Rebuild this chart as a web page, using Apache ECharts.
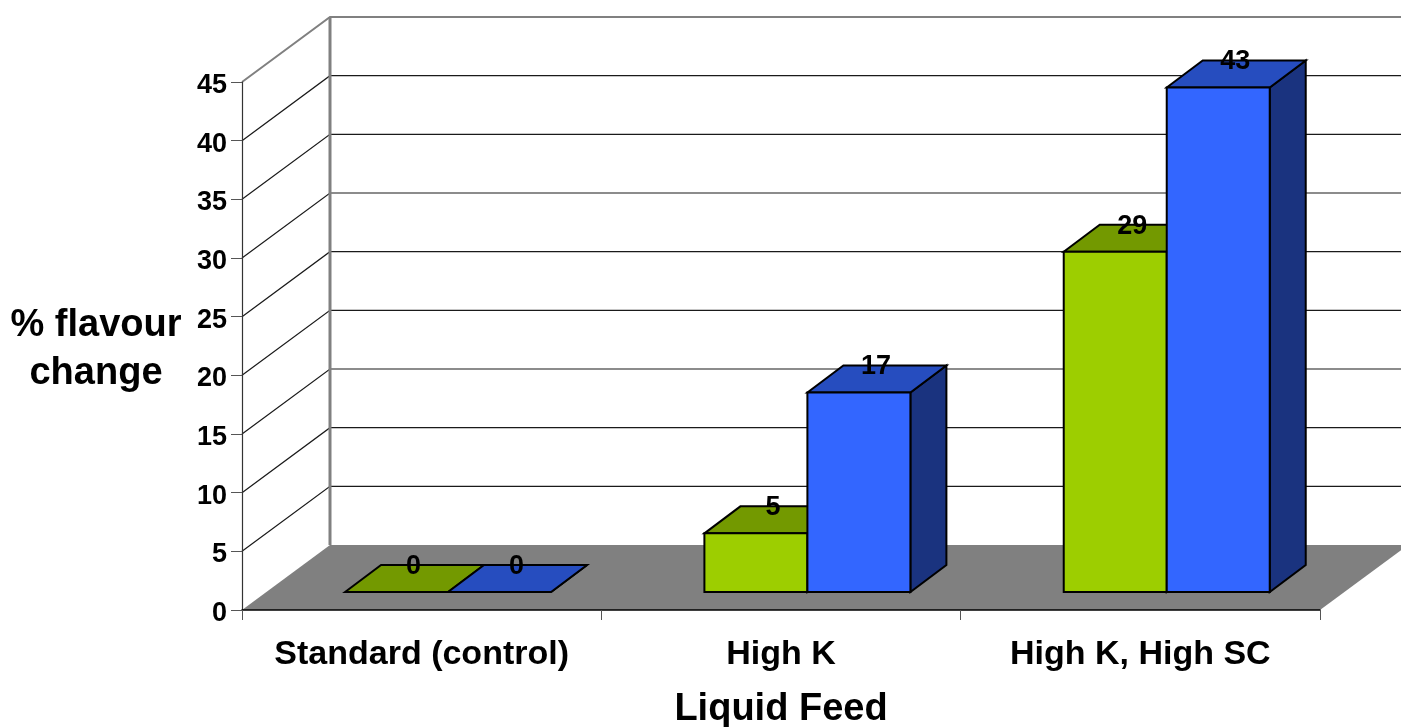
<!DOCTYPE html>
<html><head><meta charset="utf-8">
<style>html,body{margin:0;padding:0;background:#fff}#c{width:1401px;height:727px}</style>
<script src="https://cdn.jsdelivr.net/npm/echarts@6/dist/echarts.min.js"></script>
</head><body><div id="c"></div>
<script>
const categories = ["Standard (control)", "High K", "High K, High SC"];
const greenValues = [0, 5, 29];
const blueValues = [0, 17, 43];
const yTicks = [0, 5, 10, 15, 20, 25, 30, 35, 40, 45];

const FONT = '"Liberation Sans", Arial, sans-serif';
const WALL_DX = 88, WALL_DY = 65, BAR_DX = 36, BAR_DY = 27;
const BAR_SHIFT_X = 26.4, BAR_SHIFT_Y = 18, BAR_FRACTION = 103 / 359.33;
const LAST = categories.length - 1;

function plotBounds(api) {
  const band = api.size([1, 0])[0];
  return { left: api.coord([0, 0])[0] - band / 2, right: api.coord([LAST, 0])[0] + band / 2, band };
}
function poly(points, fill, stroke, lw) {
  return { type: 'polygon', shape: { points }, style: { fill, stroke, lineWidth: lw, lineJoin: 'miter' } };
}
function line(points, stroke, lw) {
  return { type: 'polyline', shape: { points }, style: { fill: null, stroke, lineWidth: lw } };
}
function renderFloor(params, api) {
  const b = plotBounds(api), y = api.coord([0, 0])[1];
  return poly([[b.left, y], [b.left + WALL_DX, y - WALL_DY], [b.right + WALL_DX, y - WALL_DY], [b.right, y]], '#808080', null, 0);
}
function renderWallLine(params, api) {
  const b = plotBounds(api), v = api.value(0), y = api.coord([0, v])[1];
  const isTop = v === yTicks[yTicks.length - 1];
  const stroke = isTop ? '#808080' : '#1a1a1a', lw = isTop ? 2 : 1.2;
  const children = [];
  if (v !== yTicks[0]) children.push(line([[b.left, y], [b.left + WALL_DX, y - WALL_DY], [b.right + WALL_DX, y - WALL_DY]], stroke, lw));
  if (isTop) {
    const y0 = api.coord([0, 0])[1];
    children.push(line([[b.left + WALL_DX, y0 - WALL_DY], [b.left + WALL_DX, y - WALL_DY]], '#808080', 3));
  }
  return { type: 'group', children };
}
function barRenderer(offsetSign, front, top, side) {
  return function (params, api) {
    const cat = api.value(0), val = api.value(1);
    const c = api.coord([cat, val]), base = api.coord([cat, 0]);
    const w = api.size([1, 0])[0] * BAR_FRACTION;
    const x0 = c[0] + BAR_SHIFT_X + offsetSign * w, x1 = x0 + w;
    const yb = base[1] - BAR_SHIFT_Y, yt = c[1] - BAR_SHIFT_Y;
    const k = '#000000', lw = 2;
    return { type: 'group', children: [
      poly([[x1, yt], [x1 + BAR_DX, yt - BAR_DY], [x1 + BAR_DX, yb - BAR_DY], [x1, yb]], side, k, lw),
      poly([[x0, yt], [x0 + BAR_DX, yt - BAR_DY], [x1 + BAR_DX, yt - BAR_DY], [x1, yt]], top, k, lw),
      poly([[x0, yt], [x1, yt], [x1, yb], [x0, yb]], front, k, lw),
      { type: 'text', z2: 50, style: { text: String(val), x: (x0 + x1) / 2 + 17, y: yt - 25.5, align: 'center', verticalAlign: 'middle', font: 'bold 27px ' + FONT, fill: '#000' } }
    ] };
  };
}
const chart = echarts.init(document.getElementById('c'), null, { renderer: 'canvas' });
chart.setOption({
  animation: false,
  backgroundColor: '#ffffff',
  grid: { left: 242, right: 81, top: 82, bottom: 117, outerBoundsMode: 'none' },
  graphic: [{ type: 'text', z: 20, x: 96, y: 350, style: { text: '% flavour\nchange', align: 'center', verticalAlign: 'middle', lineHeight: 48, font: 'bold 38px ' + FONT, fill: '#000' } }],
  xAxis: {
    type: 'category', data: categories, z: 10,
    axisLine: { show: true, lineStyle: { color: '#000', width: 1.5 } },
    axisTick: { show: true, alignWithLabel: false, length: 10, lineStyle: { color: '#555', width: 1 } },
    axisLabel: { color: '#000', fontFamily: FONT, fontWeight: 'bold', fontSize: 34, margin: 28, interval: 0 },
    name: 'Liquid Feed', nameLocation: 'middle', nameGap: 81,
    nameTextStyle: { color: '#000', fontFamily: FONT, fontWeight: 'bold', fontSize: 38 }
  },
  yAxis: {
    type: 'value', min: 0, max: 45, interval: 5, z: 10,
    axisLine: { show: true, lineStyle: { color: '#333', width: 1.2 } },
    axisTick: { show: true, length: 11, lineStyle: { color: '#555', width: 1 } },
    splitLine: { show: false },
    axisLabel: { color: '#000', fontFamily: FONT, fontWeight: 'bold', fontSize: 27, margin: 15, verticalAlign: 'top', lineHeight: 7 }
  },
  series: [
    { type: 'custom', name: 'floor', z: 1, silent: true, clip: false, data: [[0]], renderItem: renderFloor, encode: { y: 0 } },
    { type: 'custom', name: 'walls', z: 1, silent: true, clip: false, data: yTicks.map(v => [v]), renderItem: renderWallLine, encode: { y: 0 } },
    { type: 'custom', name: 'Series 1', z: 3, clip: false, data: greenValues.map((v, i) => [i, v]), encode: { x: 0, y: 1 },
      renderItem: barRenderer(-1, '#9DCE00', '#739900', '#4D6600') },
    { type: 'custom', name: 'Series 2', z: 4, clip: false, data: blueValues.map((v, i) => [i, v]), encode: { x: 0, y: 1 },
      renderItem: barRenderer(0, '#3366FF', '#264DBF', '#1A337F') }
  ]
});
</script></body></html>
